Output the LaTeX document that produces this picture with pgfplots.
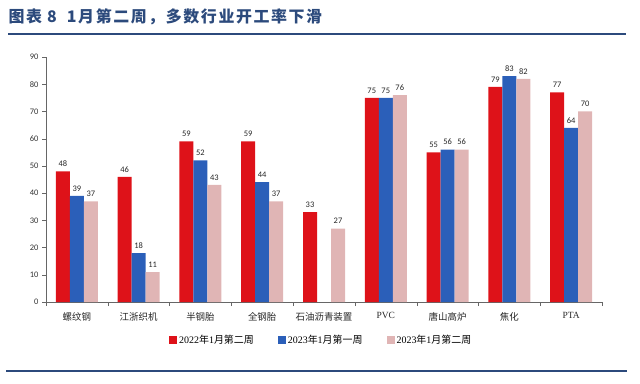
\documentclass[border=0pt]{standalone}
\usepackage{fontspec}
\setmainfont{Liberation Serif}
\newfontfamily\cjk{Noto Sans CJK SC}
\newfontfamily\cjktitle[LetterSpace=10]{Noto Sans CJK SC}
\newfontfamily\numfont{Carlito}
\usepackage{pgfplots}
\pgfplotsset{compat=1.18}
\definecolor{cred}{HTML}{DE1219}
\definecolor{cblue}{HTML}{2B5FB9}
\definecolor{cpink}{HTML}{E0B5B5}
\definecolor{navy}{HTML}{2C4A7C}
\begin{document}
\begin{tikzpicture}[x=1bp,y=1bp]
\path[use as bounding box] (0,0) rectangle (640,383);
\node[anchor=west, text=navy, font=\cjktitle\bfseries\fontsize{16}{16}\selectfont] at (5,366) {图表 8\hspace{10bp}1月第二周，多数行业开工率下滑};
\draw[navy, line width=2.5bp] (8,349) -- (626,349);
\draw[navy, line width=2.5bp] (6,12) -- (627,12);
\begin{axis}[
  at={(46bp,81bp)}, anchor=south west,
  scale only axis, width=556bp, height=245bp,
  ymin=0, ymax=90, xmin=-0.5, xmax=8.5,
  ybar=0pt, bar width=14bp,
  axis x line*=bottom, axis y line*=left,
  axis line style={black!60},
  tick align=outside,
  ytick={0,10,...,90},
  xtick={0,...,8},
  xticklabels={{\cjk 螺纹钢},{\cjk 江浙织机},{\cjk 半钢胎},{\cjk 全钢胎},{\cjk 石油沥青装置},PVC,{\cjk 唐山高炉},{\cjk 焦化},PTA},
  minor xtick={-0.5,0.5,...,8.5},
  major x tick style={draw=none},
  minor x tick style={draw=black!60},
  y tick style={draw=black!60},
  major tick length=4bp, minor tick length=4bp,
  /pgf/number format/assume math mode=true,
  yticklabel style={font=\numfont\fontsize{8.5}{8.5}\selectfont, text=black!80},
  xticklabel style={font=\fontsize{9.5}{9.5}\selectfont, text=black!85, yshift=-3bp},
  nodes near coords,
  every node near coord/.append style={font=\numfont\fontsize{8.5}{8.5}\selectfont, text=black!85, yshift=1bp},
  legend columns=3,
  legend style={draw=none, at={(0.495,-0.155)}, anchor=center, font=\fontsize{10}{10}\selectfont,
    /tikz/every even column/.append style={column sep=22bp}},
  legend image code/.code={\fill[#1] (0bp,-4bp) rectangle (8bp,4bp);},
]
\addplot[fill=cred, draw=none] coordinates {(0,48) (1,46) (2,59) (3,59) (4,33) (5,75) (6,55) (7,79) (8,77)};
\addplot[fill=cblue, draw=none] coordinates {(0,39) (1,18) (2,52) (3,44) (5,75) (6,56) (7,83) (8,64)};
\addplot[fill=cpink, draw=none] coordinates {(0,37) (1,11) (2,43) (3,37) (4,27) (5,76) (6,56) (7,82) (8,70)};
\legend{2022{\cjk 年}1{\cjk 月第二周},2023{\cjk 年}1{\cjk 月第一周},2023{\cjk 年}1{\cjk 月第二周}}
\end{axis}
\end{tikzpicture}
\end{document}
